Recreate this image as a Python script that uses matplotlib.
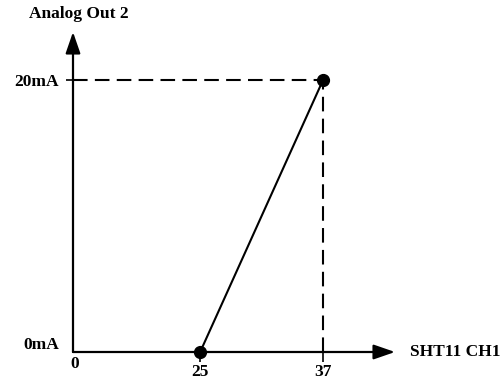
import matplotlib
matplotlib.use('Agg')
import matplotlib.pyplot as plt

# schematic: analog output 2 vs SHT11 CH1 reading
x_vals = [25, 37]
y_vals = [0, 20]
x_labels = ['25', '37']
y_labels = ['0mA', '20mA']
x_name = 'SHT11 CH1'
y_name = 'Analog Out 2'

plt.rcParams['font.family'] = ['Liberation Serif', 'DejaVu Serif']
plt.rcParams['font.weight'] = 'bold'
FS = 12.5

W, H = 502, 383
fig = plt.figure(figsize=(W / 100.0, H / 100.0), dpi=100)
# axes box spans origin -> arrow heads (pixel layout of the drawing)
ax = fig.add_axes([73.0 / W, (H - 352.0) / H, (395.0 - 73.0) / W, (352.0 - 32.0) / H])
ax.set_xlim(12.6, 44.0)
ax.set_ylim(0, 23.5)
ax.patch.set_alpha(0)
for s in ax.spines.values():
    s.set_visible(False)

# axes with arrows
arrow = dict(arrowstyle='-|>,head_length=1.3,head_width=0.45', lw=1.6, color='black',
             shrinkA=0, shrinkB=0)
ax.annotate('', xy=(1, 0), xytext=(0, 0), xycoords='axes fraction', arrowprops=arrow)
ax.annotate('', xy=(0, 1), xytext=(0, 0), xycoords='axes fraction', arrowprops=arrow)

# dashed guides to the full scale point
ax.plot([ax.get_xlim()[0], x_vals[1]], [y_vals[1], y_vals[1]], color='black', lw=1.5,
        dashes=(7, 3.5), clip_on=False)
ax.plot([x_vals[1], x_vals[1]], [0, y_vals[1]], color='black', lw=1.5,
        dashes=(7, 3.5), clip_on=False)

# transfer line
ax.plot(x_vals, y_vals, color='black', lw=1.5, marker='o', markersize=8.5, clip_on=False, zorder=5)

ax.set_xticks(x_vals)
ax.set_xticklabels(x_labels, fontsize=FS, fontweight='bold')
ax.set_yticks([y_vals[1]])
ax.set_yticklabels([y_labels[1]], fontsize=FS, fontweight='bold')
ax.tick_params(axis='x', direction='out', length=7, width=1.2, pad=1.5)
ax.tick_params(axis='y', direction='out', length=5, width=1.2, pad=5)

ax.annotate(y_labels[0], xy=(0, 0), xycoords='axes fraction', xytext=(-10, 5),
            textcoords='offset points', ha='right', va='center', fontsize=FS, fontweight='bold')
ax.annotate('0', xy=(0, 0), xycoords='axes fraction', xytext=(1, -9),
            textcoords='offset points', ha='center', va='center', fontsize=FS, fontweight='bold')
ax.annotate(x_name, xy=(1, 0), xycoords='axes fraction', xytext=(11, 0),
            textcoords='offset points', ha='left', va='center', fontsize=FS, fontweight='bold')
ax.annotate(y_name, xy=(0, 1), xycoords='axes fraction', xytext=(4, 13),
            textcoords='offset points', ha='center', va='center', fontsize=FS, fontweight='bold')

fig.savefig('out.png', dpi=100, facecolor='white')
